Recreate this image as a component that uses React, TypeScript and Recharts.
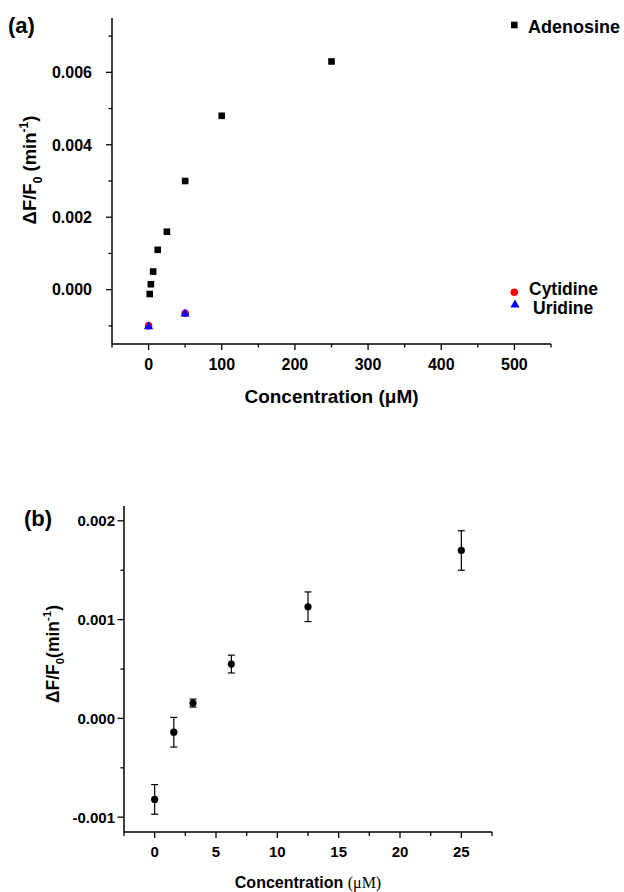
import React from 'react';
import { ScatterChart, Scatter, XAxis, YAxis, ErrorBar, Label } from 'recharts';

const FONT = 'Arial, "Liberation Sans", Helvetica, sans-serif';

// (a) response to each nucleoside, uM vs min^-1
const adenosineConc = [1.56, 3.125, 6.25, 12.5, 25, 50, 100, 250];
const adenosineRate = [-0.00012, 0.00015, 0.0005, 0.0011, 0.0016, 0.003, 0.0048, 0.0063];
const cytidineConc = [0, 50];
const cytidineRate = [-0.001, -0.00065];
const uridineConc = [0, 50];
const uridineRate = [-0.001, -0.00065];

// (b) adenosine titration with error bars
const titrationConc = [0, 1.56, 3.125, 6.25, 12.5, 25];
const titrationRate = [-0.00082, -0.00014, 0.000155, 0.00055, 0.00113, 0.0017];
const titrationErr = [0.00015, 0.00015, 0.00004, 0.00009, 0.00015, 0.0002];

// tick values
const aXMajor = [0, 100, 200, 300, 400, 500];
const aXMinor = [-50, 50, 150, 250, 350, 450, 550];
const aYMajor = [0, 0.002, 0.004, 0.006];
const aYMinor = [-0.001, 0.001, 0.003, 0.005, 0.007];
const bXMajor = [0, 5, 10, 15, 20, 25];
const bXMinor = [-2.5, 2.5, 7.5, 12.5, 17.5, 22.5, 27.5];
const bYMajor = [-0.001, 0, 0.001, 0.002];
const bYMinor = [-0.0005, 0.0005, 0.0015];

const toPoints = (xs: number[], ys: number[], errs?: number[]) =>
  xs.map((x, i) => ({ x, y: ys[i], err: errs ? errs[i] : 0 }));

const adenosine = toPoints(adenosineConc, adenosineRate);
const cytidine = toPoints(cytidineConc, cytidineRate);
const uridine = toPoints(uridineConc, uridineRate);
const titration = toPoints(titrationConc, titrationRate, titrationErr);

const allTicks = (a: number[], b: number[]) => [...a, ...b].sort((p, q) => p - q);

type TickCfg = {
  side: 'left' | 'bottom';
  majors: number[];
  size: number;
  gap: number;
  majorLen: number;
  minorLen: number;
  fmt: (v: number) => string;
};

const renderTick = (cfg: TickCfg) => (props: any) => {
  const { x, y, payload } = props;
  const v = payload.value;
  const isMajor = cfg.majors.some((m) => Math.abs(m - v) < 1e-9);
  const len = isMajor ? cfg.majorLen : cfg.minorLen;
  if (cfg.side === 'left') {
    return (
      <g>
        <line x1={x} y1={y} x2={x - len} y2={y} stroke="#000" strokeWidth={1.3} />
        {isMajor && (
          <text x={x - cfg.gap} y={y} dy={cfg.size * 0.36} textAnchor="end" fontSize={cfg.size}
            fontWeight="bold" fontFamily={FONT} fill="#000">
            {cfg.fmt(v)}
          </text>
        )}
      </g>
    );
  }
  return (
    <g>
      <line x1={x} y1={y} x2={x} y2={y + len} stroke="#000" strokeWidth={1.3} />
      {isMajor && (
        <text x={x} y={y + cfg.gap} textAnchor="middle" fontSize={cfg.size}
          fontWeight="bold" fontFamily={FONT} fill="#000">
          {cfg.fmt(v)}
        </text>
      )}
    </g>
  );
};

const YTitle = ({ cx, cy, size, space }: { cx: number; cy: number; size: number; space: boolean }) => (
  <text transform={`rotate(-90 ${cx} ${cy})`} x={cx} y={cy} textAnchor="middle" fontSize={size}
    fontWeight="bold" fontFamily={FONT} fill="#000">
    ΔF/F
    <tspan fontSize={size * 0.65} dy={size * 0.3}>0</tspan>
    <tspan dy={-size * 0.3}>{space ? ' (min' : '(min'}</tspan>
    <tspan fontSize={size * 0.65} dy={-size * 0.45}>-1</tspan>
    <tspan dy={size * 0.45}>)</tspan>
  </text>
);

const square = (p: any) => <rect x={p.cx - 3.3} y={p.cy - 3.3} width={6.6} height={6.6} fill="#000" />;
const redDot = (p: any) => <circle cx={p.cx} cy={p.cy} r={3.8} fill="#ff0000" />;
const blueTri = (p: any) => (
  <polygon points={`${p.cx},${p.cy - 4.6} ${p.cx + 4.6},${p.cy + 3.4} ${p.cx - 4.6},${p.cy + 3.4}`} fill="#0000ff" />
);
const blackDot = (p: any) => <circle cx={p.cx} cy={p.cy} r={3.6} fill="#000" />;

const axisLine = { stroke: '#000', strokeWidth: 1.5 };

function PanelA() {
  return (
    <ScatterChart width={624} height={430} margin={{ top: 18, right: 73, left: 0, bottom: 0 }}>
      <XAxis
        type="number" dataKey="x" domain={[-50, 550]} ticks={allTicks(aXMajor, aXMinor)} interval={0}
        height={86} axisLine={axisLine} tickLine={false} tickSize={0} tickMargin={0}
        tick={renderTick({ side: 'bottom', majors: aXMajor, size: 16, gap: 25.5, majorLen: 6, minorLen: 3.5, fmt: (v) => String(v) })}
      >
        <Label content={(p: any) => (
          <text x={p.viewBox.x + p.viewBox.width / 2} y={p.viewBox.y + 59} textAnchor="middle" fontSize={19}
            fontWeight="bold" fontFamily={FONT} fill="#000">
            Concentration (μM)
          </text>
        )} />
      </XAxis>
      <YAxis
        type="number" dataKey="y" domain={[-0.0015, 0.0075]} ticks={allTicks(aYMajor, aYMinor)} interval={0}
        width={112} axisLine={axisLine} tickLine={false} tickSize={0} tickMargin={0}
        tick={renderTick({ side: 'left', majors: aYMajor, size: 16, gap: 20, majorLen: 6, minorLen: 3.5, fmt: (v) => v.toFixed(3) })}
      >
        <Label content={(p: any) => <YTitle cx={36} cy={p.viewBox.y + p.viewBox.height / 2 - 11} size={18.5} space />} />
      </YAxis>
      <Scatter name="Adenosine" data={adenosine} shape={square} isAnimationActive={false} />
      <Scatter name="Cytidine" data={cytidine} shape={redDot} isAnimationActive={false} />
      <Scatter name="Uridine" data={uridine} shape={blueTri} isAnimationActive={false} />
      <g fontFamily={FONT} fontWeight="bold" fill="#000">
        <text x={8} y={33} fontSize={22}>(a)</text>
        <rect x={511} y={21.7} width={6.6} height={6.6} fill="#000" />
        <text x={528} y={33} fontSize={18}>Adenosine</text>
        <circle cx={514.3} cy={292.3} r={3.8} fill="#ff0000" />
        <text x={529} y={294.5} fontSize={17.5}>Cytidine</text>
        <polygon points="515,299.4 519.6,307.4 510.4,307.4" fill="#0000ff" />
        <text x={533} y={314} fontSize={17.5}>Uridine</text>
      </g>
    </ScatterChart>
  );
}

function PanelB() {
  return (
    <ScatterChart width={624} height={422} margin={{ top: 36, right: 132, left: 0, bottom: 0 }}>
      <XAxis
        type="number" dataKey="x" domain={[-2.5, 27.5]} ticks={allTicks(bXMajor, bXMinor)} interval={0}
        height={60} axisLine={axisLine} tickLine={false} tickSize={0} tickMargin={0}
        tick={renderTick({ side: 'bottom', majors: bXMajor, size: 15, gap: 25, majorLen: 6, minorLen: 4, fmt: (v) => String(v) })}
      >
        <Label content={(p: any) => (
          <text x={p.viewBox.x + p.viewBox.width / 2} y={p.viewBox.y + 56} textAnchor="middle" fontSize={16}
            fontWeight="bold" fontFamily={FONT} fill="#000">
            Concentration{' '}
            <tspan fontWeight="normal" fontFamily='"Liberation Serif", "Times New Roman", serif'>(μM)</tspan>
          </text>
        )} />
      </XAxis>
      <YAxis
        type="number" dataKey="y" domain={[-0.00115, 0.00215]} ticks={allTicks(bYMajor, bYMinor)} interval={0}
        width={124} axisLine={axisLine} tickLine={false} tickSize={0} tickMargin={0}
        tick={renderTick({ side: 'left', majors: bYMajor, size: 15, gap: 9, majorLen: 6.5, minorLen: 3.5, fmt: (v) => v.toFixed(3) })}
      >
        <Label content={(p: any) => <YTitle cx={59} cy={p.viewBox.y + p.viewBox.height / 2 - 15} size={17.5} space={false} />} />
      </YAxis>
      <Scatter name="Adenosine" data={titration} shape={blackDot} isAnimationActive={false}>
        <ErrorBar dataKey="err" direction="y" width={3.5} stroke="#000" strokeWidth={1.2} isAnimationActive={false} />
      </Scatter>
      <text x={24} y={56} fontFamily={FONT} fontWeight="bold" fontSize={22} fill="#000">(b)</text>
    </ScatterChart>
  );
}

export default function App() {
  return (
    <div style={{ position: 'absolute', left: 0, top: 0, width: 624, height: 892, background: '#fff', overflow: 'hidden' }}>
      <div style={{ position: 'absolute', left: 0, top: 0 }}>
        <PanelA />
      </div>
      <div style={{ position: 'absolute', left: 0, top: 470 }}>
        <PanelB />
      </div>
    </div>
  );
}
